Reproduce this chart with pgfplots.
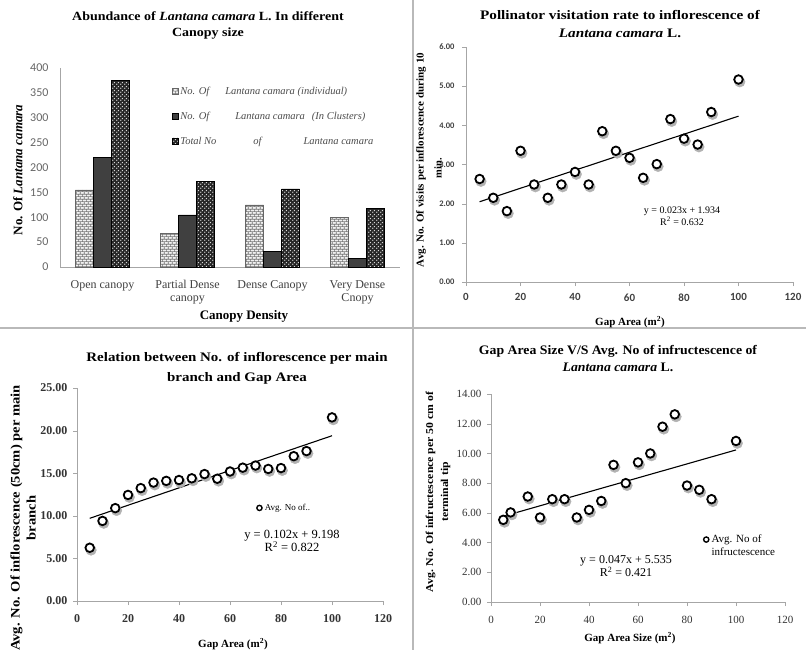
\documentclass[border=0pt]{standalone}
\usepackage{fontspec}
\setmainfont{Liberation Serif}
\newfontfamily\calib{Carlito}
\usepackage{pgfplots}
\pgfplotsset{compat=1.18}
\usetikzlibrary{patterns}
\pgfdeclarepatternformonly{smallbricks}{\pgfqpoint{0pt}{0pt}}{\pgfqpoint{4.4pt}{5.4pt}}{\pgfqpoint{4.4pt}{5.4pt}}{%
  \pgfsetlinewidth{0.7pt}%
  \pgfpathmoveto{\pgfqpoint{0pt}{0.35pt}}\pgfpathlineto{\pgfqpoint{4.4pt}{0.35pt}}%
  \pgfpathmoveto{\pgfqpoint{0pt}{3.05pt}}\pgfpathlineto{\pgfqpoint{4.4pt}{3.05pt}}%
  \pgfpathmoveto{\pgfqpoint{0.35pt}{0.35pt}}\pgfpathlineto{\pgfqpoint{0.35pt}{3.05pt}}%
  \pgfpathmoveto{\pgfqpoint{2.55pt}{3.05pt}}\pgfpathlineto{\pgfqpoint{2.55pt}{5.4pt}}%
  \pgfusepath{stroke}}
\pgfdeclarepatternformonly{bigdots}{\pgfqpoint{0pt}{0pt}}{\pgfqpoint{3.6pt}{3.6pt}}{\pgfqpoint{3.6pt}{3.6pt}}{%
  \pgfpathcircle{\pgfqpoint{0.9pt}{0.9pt}}{0.8pt}%
  \pgfpathcircle{\pgfqpoint{2.7pt}{2.7pt}}{0.8pt}%
  \pgfusepath{fill}}
\begin{document}
\begin{tikzpicture}
\path[use as bounding box, fill=white] (0pt,0pt) rectangle (806pt,-650pt);
\draw[gray!55, line width=1.5pt] (413pt,0pt) -- (413pt,-650pt);
\draw[gray!55, line width=1.5pt] (0pt,-328pt) -- (806pt,-328pt);
\pgfplotsset{
  scat/.style={only marks, mark=*, mark size=4.3pt, mark options={fill=white, draw=black, line width=1.8pt}},
  shad/.style={scatter, only marks, mark=*, mark size=5.3pt, forget plot, point meta=y,
    scatter/@pre marker code/.code={\pgfscope\pgftransformshift{\pgfqpoint{1.3pt}{-2.3pt}}\pgfsetfillcolor{black!30}\pgfsetstrokecolor{black!30}},
    scatter/@post marker code/.code={\endpgfscope}},
  trend/.style={black, line width=1.1pt, no marks, forget plot},
  scatax/.style={scale only axis, axis x line*=bottom, axis y line*=left,
    axis line style={gray!70}, tick style={gray!70}, tick align=outside, major tick length=4pt,
    xmin=0, xmax=120, xtick={0,20,...,120}, ymin=0,
    /pgf/number format/assume math mode=true,
    yticklabel style={/pgf/number format/fixed, /pgf/number format/fixed zerofill, /pgf/number format/precision=2},
    legend style={draw=none, fill=none, cells={align=left}},
    legend image code/.code={\draw[black, line width=1.4pt, fill=white] (2pt,0pt) circle (2.6pt);}},
}
% ---------------- Panel 1 ----------------
\begin{axis}[
  at={(60pt,-267pt)}, anchor=south west,
  scale only axis, width=340pt, height=199pt,
  xmin=-0.5, xmax=3.5, ymin=0, ymax=400,
  ybar=0pt, bar width=18pt,
  axis x line*=bottom, axis y line*=left,
  axis line style={gray!70}, major tick length=0pt,
  /pgf/number format/assume math mode=true,
  xtick={0,1,2,3},
  xticklabels={Open canopy, {Partial Dense\\canopy}, Dense Canopy, {Very Dense\\Cnopy}},
  xticklabel style={align=center, font=\fontsize{12}{13}\selectfont, text=black!75, yshift=-10pt},
  ytick={0,50,...,400},
  yticklabel style={font=\calib\fontsize{12}{13}\selectfont, text=black!60, xshift=-8pt},
  legend style={at={(0.32,0.925)}, anchor=north west, draw=none, fill=none,
    font=\itshape\fontsize{10.5}{11}\selectfont, row sep=12pt, text=black!70},
  legend cell align=left,
  legend image code/.code={\draw[#1] (0pt,-2.5pt) rectangle (6pt,3.5pt);},
]
\addplot[draw=black!60, fill=gray!12, postaction={pattern=smallbricks, pattern color=black!55}]
  coordinates {(0,155) (1,68) (2,125) (3,100)};
\addlegendentry{No. Of\hspace{16pt}Lantana camara (individual)}
\addplot[draw=black, fill=black!75]
  coordinates {(0,220) (1,105) (2,32) (3,18)};
\addlegendentry{No. Of\hspace{26pt}Lantana camara\hspace{7pt}(In Clusters)}
\addplot[draw=black, fill=black!85, postaction={pattern=bigdots, pattern color=white!85!black}]
  coordinates {(0,375) (1,172) (2,157) (3,118)};
\addlegendentry{Total No\hspace{37pt}of\hspace{42pt}Lantana camara}
\end{axis}
\node[align=center, xscale=1.12, font=\bfseries\fontsize{12.5}{16}\selectfont] at (208pt,-25pt)
  {Abundance of \textit{Lantana camara} L. In different\\Canopy size};
\node[rotate=90, font=\bfseries\fontsize{13}{15}\selectfont] at (18pt,-170pt) {No. Of \textit{Lantana camara}};
\node[font=\bfseries\fontsize{13}{15}\selectfont] at (244pt,-316pt) {Canopy Density};
% ---------------- Panel 2 ----------------
\begin{axis}[scatax,
  at={(466pt,-282pt)}, anchor=south west, width=327pt, height=235pt,
  ymax=6, ytick={0,1,...,6},
  yticklabel style={font=\calib\bfseries\fontsize{8.5}{9}\selectfont, text=black!75, xshift=-4pt},
  xticklabel style={font=\calib\bfseries\fontsize{11}{12}\selectfont, text=black!75, yshift=-4pt},
]
\addplot[shad] coordinates {(5,2.63) (10,2.15) (15,1.81) (20,3.35) (25,2.49) (30,2.15) (35,2.49) (40,2.81) (45,2.49) (50,3.85) (55,3.35) (60,3.17) (65,2.66) (70,3.01) (75,4.16) (80,3.66) (85,3.51) (90,4.34) (100,5.17)};
\addplot[trend] coordinates {(5,2.049) (100,4.234)};
\addplot[scat] coordinates {(5,2.63) (10,2.15) (15,1.81) (20,3.35) (25,2.49) (30,2.15) (35,2.49) (40,2.81) (45,2.49) (50,3.85) (55,3.35) (60,3.17) (65,2.66) (70,3.01) (75,4.16) (80,3.66) (85,3.51) (90,4.34) (100,5.17)};
\end{axis}
\node[align=center, xscale=1.17, font=\bfseries\fontsize{13}{18}\selectfont] at (620pt,-24pt)
  {Pollinator visitation rate to inflorescence of\\\textit{Lantana camara} L.};
\node[rotate=90, xscale=1.05, font=\bfseries\fontsize{10.5}{12}\selectfont] at (421pt,-160pt) {Avg. No. Of visits per inflorescence during 10};
\node[rotate=90, font=\bfseries\fontsize{10.5}{12}\selectfont] at (438pt,-168pt) {min.};
\node[font=\bfseries\fontsize{11}{12}\selectfont] at (630pt,-322pt) {Gap Area (m\textsuperscript{2})};
\node[align=center, font=\fontsize{10}{12}\selectfont] at (682pt,-216pt) {y = 0.023x + 1.934\\R\textsuperscript{2} = 0.632};
% ---------------- Panel 3 ----------------
\begin{axis}[scatax,
  at={(77pt,-601pt)}, anchor=south west, width=306pt, height=213pt,
  ymax=25, ytick={0,5,...,25},
  yticklabel style={font=\bfseries\fontsize{12}{13}\selectfont, text=black!80, xshift=-2pt},
  xticklabel style={font=\bfseries\fontsize{12}{13}\selectfont, text=black!80, yshift=-6pt},
  legend style={at={(0.575,0.437)}, anchor=west, font=\fontsize{9}{10}\selectfont},
]
\addplot[shad] coordinates {(5,6.25) (10,9.4) (15,10.9) (20,12.45) (25,13.25) (30,13.9) (35,14.1) (40,14.2) (45,14.4) (50,14.9) (55,14.35) (60,15.2) (65,15.65) (70,15.9) (75,15.5) (80,15.6) (85,17.0) (90,17.6) (100,21.55)};
\addplot[trend] coordinates {(5,9.708) (100,19.398)};
\addplot[scat] coordinates {(5,6.25) (10,9.4) (15,10.9) (20,12.45) (25,13.25) (30,13.9) (35,14.1) (40,14.2) (45,14.4) (50,14.9) (55,14.35) (60,15.2) (65,15.65) (70,15.9) (75,15.5) (80,15.6) (85,17.0) (90,17.6) (100,21.55)};
\addlegendentry{Avg. No of..}
\end{axis}
\node[align=center, xscale=1.15, font=\bfseries\fontsize{13}{20}\selectfont] at (237pt,-368pt)
  {Relation between No. of inflorescence per main\\branch and Gap Area};
\node[rotate=90, align=center, xscale=1.12, font=\bfseries\fontsize{13}{16}\selectfont] at (23pt,-518pt)
  {Avg. No. Of inflorescence (50cm) per main\\branch};
\node[font=\bfseries\fontsize{11}{12}\selectfont] at (233pt,-644pt) {Gap Area (m\textsuperscript{2})};
\node[align=center, font=\fontsize{12.5}{13}\selectfont] at (292pt,-541pt) {y = 0.102x + 9.198\\R\textsuperscript{2} = 0.822};
% ---------------- Panel 4 ----------------
\begin{axis}[scatax,
  at={(491pt,-602pt)}, anchor=south west, width=294pt, height=208pt,
  ymax=14, ytick={0,2,...,14},
  yticklabel style={font=\fontsize{11}{12}\selectfont, text=black!80, xshift=-2pt},
  xticklabel style={font=\fontsize{11}{12}\selectfont, text=black!80, yshift=-7pt},
  legend style={at={(0.71,0.345)}, anchor=north west, font=\fontsize{11}{13}\selectfont},
  legend image code/.code={\draw[black, line width=1.4pt, fill=white] (2pt,6pt) circle (2.6pt);},
]
\addplot[shad] coordinates {(5,5.53) (8,6.03) (15,7.1) (20,5.69) (25,6.92) (30,6.92) (35,5.69) (40,6.2) (45,6.8) (50,9.23) (55,8.0) (60,9.4) (65,10.0) (70,11.8) (75,12.63) (80,7.84) (85,7.55) (90,6.92) (100,10.84)};
\addplot[trend] coordinates {(5,5.770) (100,10.235)};
\addplot[scat] coordinates {(5,5.53) (8,6.03) (15,7.1) (20,5.69) (25,6.92) (30,6.92) (35,5.69) (40,6.2) (45,6.8) (50,9.23) (55,8.0) (60,9.4) (65,10.0) (70,11.8) (75,12.63) (80,7.84) (85,7.55) (90,6.92) (100,10.84)};
\addlegendentry{Avg. No of\\infructescence}
\end{axis}
\node[align=center, xscale=1.06, font=\bfseries\fontsize{13}{17}\selectfont] at (618pt,-359pt)
  {Gap Area Size V/S Avg. No of infructescence of\\\textit{Lantana camara} L.};
\node[rotate=90, align=center, xscale=1.12, font=\bfseries\fontsize{10.5}{15}\selectfont] at (438pt,-492pt)
  {Avg. No. Of infructescence per 50 cm of\\terminal tip};
\node[font=\bfseries\fontsize{11}{12}\selectfont] at (630pt,-638pt) {Gap Area Size (m\textsuperscript{2})};
\node[align=center, font=\fontsize{12}{13}\selectfont] at (626pt,-566pt) {y = 0.047x + 5.535\\R\textsuperscript{2} = 0.421};
\end{tikzpicture}
\end{document}
